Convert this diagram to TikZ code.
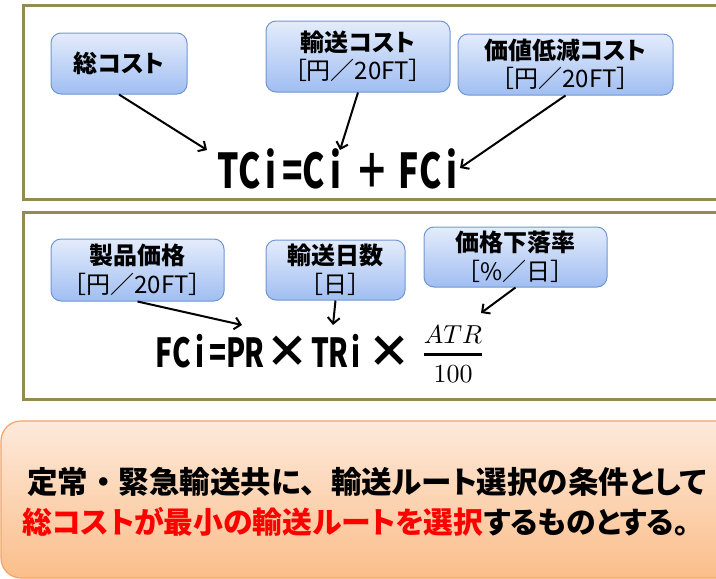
\documentclass[tikz,border=0pt]{standalone}
\usepackage{amsmath}
\usepackage{fontspec}
\usetikzlibrary{arrows.meta}
\newfontfamily\jp[RawFeature=+palt]{Noto Sans CJK JP}
\newfontfamily\jpn{Noto Sans CJK JP}
\newfontfamily\jpc[FakeStretch=0.7]{Noto Sans CJK JP}
\newcommand\cha[1]{\makebox[21.5pt]{#1}}
\newcommand\chb[1]{\makebox[18pt]{#1}}
\newcommand\fw[1]{{\jpn #1}}
\definecolor{frameol}{HTML}{948A54}
\definecolor{boxline}{HTML}{7096D2}
\definecolor{boxtop}{HTML}{E4ECFB}
\definecolor{boxbot}{HTML}{A0BEF2}
\definecolor{ortop}{HTML}{FDEADB}
\definecolor{orbot}{HTML}{FBBE8A}
\definecolor{orline}{HTML}{F8A261}
\definecolor{redtxt}{HTML}{FF0000}
\begin{document}
\begin{tikzpicture}[x=1pt,y=-1pt,
  frame/.style={draw=frameol,line width=3pt},
  bluebox/.style={draw=boxline,line width=1pt,rounded corners=10pt,
    top color=boxtop,bottom color=boxbot,align=center,inner sep=0pt,
    font=\jp\fontsize{24}{28.5}\selectfont},
  conn/.style={line width=2pt,-{Straight Barb[length=6pt,width=12pt]}},
  formula/.style={inner sep=0pt,anchor=base west},
  bigtext/.style={inner sep=0pt,anchor=west,font=\jp\bfseries\fontsize{30.5}{31}\selectfont}]
\useasboundingbox (0,0) rectangle (716,579);
\clip (0,0) rectangle (716,579);
% frames
\draw[frame] (23,5) rectangle (740,199);
\draw[frame] (23,212) rectangle (740,399);
% top boxes
\node[bluebox,minimum width=136pt,minimum height=61pt] (b1) at (119,63.5) {\bfseries 総コスト};
\node[bluebox,minimum width=184pt,minimum height=71pt] (b2) at (358,56.5) {\bfseries 輸送コスト\\［円／20FT］};
\node[bluebox,minimum width=215pt,minimum height=61pt] (b3) at (565.5,64.5) {\bfseries 価値低減コスト\\［円／20FT］};
% formula 1
\node[formula] (f1) at (217,188) {\jpc\bfseries\fontsize{48}{48}\selectfont
  \cha{T}\cha{C}\cha{i}\cha{=}\cha{C}\cha{i}\makebox[52pt]{＋}\cha{F}\cha{C}\cha{i}};
\coordinate (t1) at (207,150);
\coordinate (t2) at (340,150);
\coordinate (t3) at (460,168);
\draw[conn] (b1.south) -- (t1);
\draw[conn] (b2.south) -- (t2);
\draw[conn] (b3.south) -- (t3);
% second boxes
\node[bluebox,minimum width=173pt,minimum height=62pt] (b4) at (137.5,270) {\bfseries 製品価格\\［円／20FT］};
\node[bluebox,minimum width=139pt,minimum height=60pt] (b5) at (335.5,270) {\bfseries 輸送日数\\［日］};
\node[bluebox,minimum width=183pt,minimum height=60pt] (b6) at (515.5,257) {\bfseries 価格下落率\\［\%／日］};
% formula 2
\node[formula] (f2) at (155,367) {\jpc\bfseries\fontsize{40}{40}\selectfont
  \chb{F}\chb{C}\chb{i}\chb{=}\chb{P}\chb{R}\makebox[48pt]{\jp\fontsize{44}{44}\selectfont ×}\chb{T}\chb{R}\chb{i}\makebox[48pt]{\jp\fontsize{44}{44}\selectfont ×}};
\node[inner sep=0pt,scale=2.6] (fr) at (453,354) {$\genfrac{}{}{1.2pt}{0}{ATR}{100}$};
\coordinate (t4) at (242,325);
\coordinate (t5) at (333,325);
\coordinate (t6) at (481,313);
\draw[conn] (b4.south) -- (t4);
\draw[conn] (b5.south) -- (t5);
\draw[conn] (b6.south) -- (t6);
% bottom box
\draw[draw=orline,line width=1.2pt,rounded corners=20pt,top color=ortop,bottom color=orbot] (1,421) rectangle (780,578);
\node[bigtext] (l1) at (27,482) {定常\fw{・}緊急輸送共に\fw{、}輸送ルート選択の条件として};
\node[bigtext,font=\jp\bfseries\fontsize{29.8}{31}\selectfont] (l2) at (22,522) {\textcolor{redtxt}{総コストが最小の輸送ルートを選択}するものとする。};
\end{tikzpicture}
\end{document}
